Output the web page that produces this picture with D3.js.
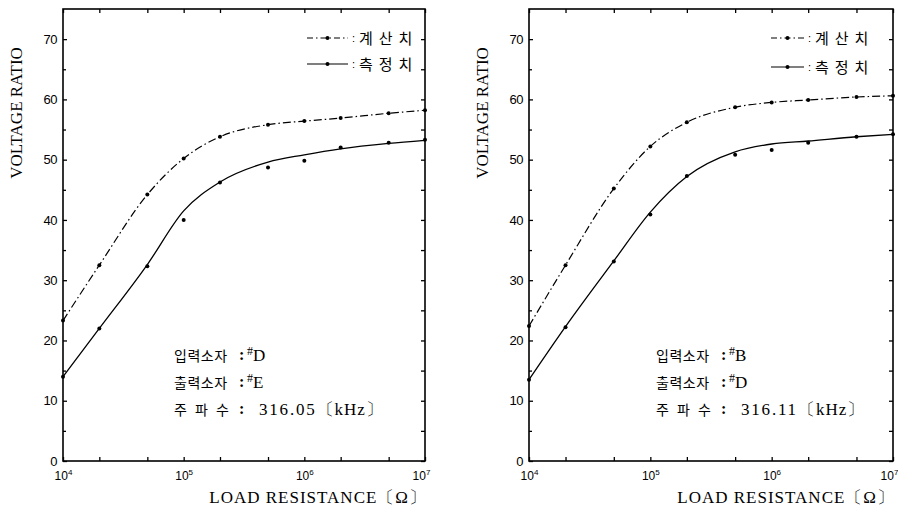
<!DOCTYPE html>
<html><head><meta charset="utf-8">
<script src="https://cdn.jsdelivr.net/npm/d3@7"></script>
<style>body{margin:0;background:#fff}svg{display:block}</style>
</head><body><svg id="c" width="898" height="512"></svg>
<script>
// ---- data ----
const loadResistance = [1e4,2e4,5e4,1e5,2e5,5e5,1e6,2e6,5e6,1e7];
const xTickValues = [1e4,2e4,5e4,1e5,2e5,5e5,1e6,2e6,5e6,1e7];
const xDecades = [1e4,1e5,1e6,1e7];
const yTickLabels = [0,10,20,30,40,50,60,70];
const yMinorTicks = [5,15,25,35,45,55,65];
const leftComputed = [23.3,32.5,44.2,50.2,53.8,55.8,56.4,56.9,57.7,58.2];
const leftMeasured = [14.0,22.0,32.3,40.0,46.2,48.7,49.8,52.0,52.8,53.3];
const leftMeasuredFit = [14.0,22.0,32.6,41.5,46.3,49.6,50.8,51.8,52.7,53.2];
const rightComputed = [22.4,32.5,45.2,52.2,56.2,58.7,59.5,59.9,60.4,60.6];
const rightMeasured = [13.5,22.2,33.1,40.9,47.3,50.8,51.6,52.8,53.8,54.2];
const rightMeasuredFit = [13.5,22.3,33.2,41.3,47.2,51.3,52.6,53.1,53.8,54.2];
const legendLabels = ["계산치","측정치"];
const leftNotes = [["입력소자","D"],["출력소자","E"],["주 파 수","316.05","〔kHz〕"]];
const rightNotes = [["입력소자","B"],["출력소자","D"],["주 파 수","316.11","〔kHz〕"]];
const yTitle = "VOLTAGE RATIO";
const xTitle = "LOAD RESISTANCE〔Ω〕";

// ---- layout ----
const svg = d3.select("#c");
const SERIF = "'Liberation Serif','DejaVu Serif',serif";
const SANS = "'Liberation Sans','DejaVu Sans',sans-serif";
const KR = "'Noto Sans CJK KR',sans-serif";

const panels = [
  {x0:63, x1:425, computed:leftComputed, measured:leftMeasured, fit:leftMeasuredFit, notes:leftNotes,
   legX:307, legLen:41, legY:[38,64], noteX:174, noteY:[361,388,415]},
  {x0:529, x1:893, computed:rightComputed, measured:rightMeasured, fit:rightMeasuredFit, notes:rightNotes,
   legX:771, legLen:33, legY:[38,67], noteX:656, noteY:[361,388,415]}
];
const plotTop = 9, plotBottom = 461;

panels.forEach(p => {
  const g = svg.append("g");
  const x = d3.scaleLog().domain([1e4,1e7]).range([p.x0,p.x1]);
  const y = d3.scaleLinear().domain([0,75]).range([plotBottom,plotTop]);

  // frame
  g.append("rect").attr("x",p.x0).attr("y",plotTop).attr("width",p.x1-p.x0).attr("height",plotBottom-plotTop)
    .attr("fill","none").attr("stroke","#000").attr("stroke-width",1.6);

  // axes (inward ticks)
  const yl = g.append("g").attr("transform",`translate(${p.x0},0)`)
    .call(d3.axisLeft(y).tickValues(yTickLabels).tickSize(-4).tickPadding(6).tickFormat(d3.format("d")));
  g.append("g").attr("transform",`translate(${p.x0},0)`)
    .call(d3.axisLeft(y).tickValues(yMinorTicks).tickSize(-3).tickFormat(""));
  g.append("g").attr("transform",`translate(${p.x1},0)`)
    .call(d3.axisRight(y).tickValues(yTickLabels.concat(yMinorTicks)).tickSize(-4).tickFormat(""));
  g.append("g").attr("transform",`translate(0,${plotTop})`)
    .call(d3.axisTop(x).tickValues(xTickValues).tickSize(-4).tickFormat(""));
  const xb = g.append("g").attr("transform",`translate(0,${plotBottom})`)
    .call(d3.axisBottom(x).tickValues(xTickValues).tickSize(-4).tickPadding(8).tickFormat(""));
  g.selectAll(".domain").remove();
  g.selectAll(".tick line").attr("stroke","#000").attr("stroke-width",1.3);
  yl.selectAll("text").attr("font-family",SANS).attr("font-size",13).attr("fill","#000")
    .attr("letter-spacing","-0.5");

  // decade labels with superscripts
  xb.selectAll(".tick").filter(d => xDecades.includes(d)).each(function(d){
    const t = d3.select(this).select("text").attr("font-family",SANS).attr("font-size",12)
      .attr("fill","#000").attr("y",10).attr("dy","0.71em");
    if (d === 1e7) t.attr("x",-4);
    t.append("tspan").text("10");
    t.append("tspan").attr("font-size",8).attr("dy","-0.55em").text(Math.round(Math.log10(d)));
  });

  // curves
  const line = d3.line().x((d,i)=>x(loadResistance[i])).y(d=>y(d)).curve(d3.curveMonotoneX);
  g.append("path").attr("d",line(p.computed)).attr("fill","none").attr("stroke","#000")
    .attr("stroke-width",1.2).attr("stroke-dasharray","8,3,1.5,3");
  g.append("path").attr("d",line(p.fit)).attr("fill","none").attr("stroke","#000").attr("stroke-width",1.3);
  [p.computed,p.measured].forEach(arr=>{
    g.selectAll(null).data(arr).enter().append("circle")
      .attr("cx",(d,i)=>x(loadResistance[i])).attr("cy",d=>y(d)).attr("r",2).attr("fill","#000");
  });

  // legend
  legendLabels.forEach((lab,i)=>{
    const ly = p.legY[i], len = p.legLen;
    g.append("line").attr("x1",p.legX).attr("x2",p.legX+len).attr("y1",ly).attr("y2",ly)
      .attr("stroke","#000").attr("stroke-width",1.2).attr("stroke-dasharray",i===0?"6,3,1.5,3":null);
    g.append("circle").attr("cx",p.legX+len/2).attr("cy",ly).attr("r",2).attr("fill","#000");
    g.append("text").attr("x",p.legX+len+4).attr("y",ly+4).attr("font-family",SANS).attr("font-size",11)
      .attr("fill","#000").text(":");
    g.append("text").attr("x",p.legX+len+11).attr("y",ly+5.5).attr("font-family",KR).attr("font-size",15)
      .attr("letter-spacing",6).attr("fill","#000").text(lab);
  });

  // notes
  p.notes.forEach((n,i)=>{
    const ny = p.noteY[i];
    g.append("text").attr("x",p.noteX).attr("y",ny).attr("font-family",KR).attr("font-size",14)
      .attr("letter-spacing", i===2 ? 0 : 0.5).attr("word-spacing", i===2 ? 5 : 0)
      .attr("fill","#000").text(n[0]);
    g.append("text").attr("x",p.noteX+65).attr("y",ny-1).attr("font-family",SERIF).attr("font-size",16)
      .attr("font-weight","bold").attr("fill","#000").text(":");
    const t = g.append("text").attr("x",p.noteX+73).attr("y",ny).attr("font-family",SERIF).attr("fill","#000");
    if (i<2) {
      t.append("tspan").attr("font-size",12).attr("dy",-6).text("#");
      t.append("tspan").attr("font-size",17).attr("dy",6).text(n[1]);
    } else {
      t.attr("x",p.noteX+85).attr("font-size",17);
      t.append("tspan").attr("letter-spacing",1.8).text(n[1]);
      t.append("tspan").attr("letter-spacing",1).text(n[2]);
    }
  });

  // titles
  g.append("text").attr("transform",`translate(${p.x0-41},113) rotate(-90)`).attr("text-anchor","middle")
    .attr("font-family",SERIF).attr("font-size",17).attr("fill","#000").text(yTitle);
  g.append("text").attr("x",p.x1+2).attr("y",503).attr("text-anchor","end")
    .attr("font-family",SERIF).attr("font-size",17).attr("letter-spacing",1).attr("fill","#000").text(xTitle);
});
</script></body></html>
